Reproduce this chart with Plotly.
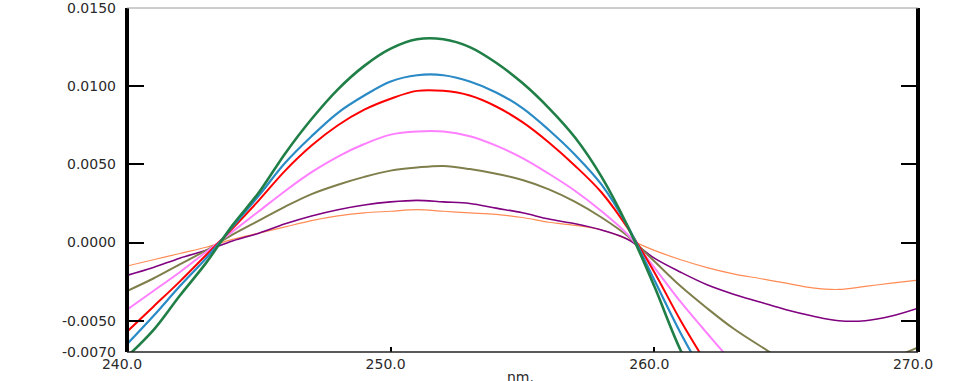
import plotly.graph_objects as go

# wavelength grid (nm)
wavelength = list(range(240, 271))

green = [-0.0073, -0.0056, -0.0034, -0.0013, 0.0011, 0.0032, 0.0057, 0.0079, 0.0098, 0.0113,
         0.0124, 0.0130, 0.0130, 0.0125, 0.0115, 0.0102, 0.0086, 0.0067, 0.0042, 0.0010,
         -0.0028, -0.0069, -0.0100]
blue = [-0.0065, -0.0047, -0.0028, -0.0010, 0.0010, 0.0030, 0.0051, 0.0068, 0.0083, 0.0094,
        0.0103, 0.0107, 0.0107, 0.0103, 0.0096, 0.0086, 0.0072, 0.0056, 0.0037, 0.0010,
        -0.0024, -0.0058, -0.0088]
red = [-0.0057, -0.0041, -0.0025, -0.0008, 0.0009, 0.0027, 0.0046, 0.0062, 0.0075, 0.0085,
       0.0092, 0.0097, 0.0097, 0.0094, 0.0087, 0.0077, 0.0064, 0.0049, 0.0032, 0.0009,
       -0.0019, -0.0050, -0.0078]
pink = [-0.0043, -0.0031, -0.0019, -0.0006, 0.0007, 0.0020, 0.0033, 0.0045, 0.0055, 0.0063,
        0.0069, 0.0071, 0.0071, 0.0068, 0.0062, 0.0054, 0.0044, 0.0033, 0.0020, 0.0005,
        -0.0016, -0.0038, -0.0058, -0.0077, -0.0092]
olive = [-0.0031, -0.0023, -0.0014, -0.0005, 0.0005, 0.0014, 0.0023, 0.0031, 0.0037, 0.0042,
         0.0046, 0.0048, 0.0049, 0.0047, 0.0044, 0.0040, 0.0034, 0.0026, 0.0016, 0.0004,
         -0.0012, -0.0028, -0.0042, -0.0055, -0.0066, -0.0076, -0.0080, -0.0081, -0.0079,
         -0.0074, -0.0067]
purple = [-0.0021, -0.0016, -0.0010, -0.0005, 0.0001, 0.0006, 0.0012, 0.0017, 0.0021, 0.0024,
          0.0026, 0.0027, 0.0026, 0.0025, 0.0022, 0.0019, 0.0015, 0.0012, 0.0008, 0.0002,
          -0.0010, -0.0019, -0.0027, -0.0033, -0.0038, -0.0043, -0.0047, -0.0050, -0.0050,
          -0.0047, -0.0042]
orange = [-0.0015, -0.0011, -0.0007, -0.0003, 0.0002, 0.0006, 0.0010, 0.0014, 0.0017, 0.0019,
          0.0020, 0.0021, 0.0020, 0.0019, 0.0018, 0.0016, 0.0013, 0.0011, 0.0008, 0.0002,
          -0.0005, -0.0011, -0.0016, -0.0020, -0.0023, -0.0026, -0.0029, -0.0030, -0.0028,
          -0.0026, -0.0024]

y_tickvals = [0.015, 0.010, 0.005, 0.0, -0.005, -0.007]
y_ticktext = ["0.0150", "0.0100", "0.0050", "0.0000", "-0.0050", "-0.0070"]
x_tickvals = [240, 250, 260, 270]
x_ticktext = ["240.0", "250.0", "260.0", "270.0"]
x_title = "nm."

series = [
    (orange, "#FF8C55", 1.2),
    (purple, "#800080", 1.6),
    (olive, "#7F7F4C", 2.0),
    (pink, "#FF80FF", 2.0),
    (red, "#FF0000", 2.0),
    (blue, "#2A8AC6", 2.2),
    (green, "#1F7F46", 2.6),
]

fig = go.Figure()
for ys, col, w in series:
    fig.add_trace(go.Scatter(
        x=wavelength[:len(ys)], y=ys, mode="lines",
        line=dict(color=col, width=w, shape="spline", smoothing=1.0),
        showlegend=False, hoverinfo="skip"))

tick_font = dict(family="DejaVu Sans", size=14, color="#2a2a2a")

fig.update_layout(
    width=960, height=381,
    margin=dict(l=127, r=42, t=8, b=29),
    paper_bgcolor="white", plot_bgcolor="white",
    xaxis=dict(range=[240, 270], tickmode="array", tickvals=x_tickvals, ticktext=x_ticktext,
               ticks="inside", ticklen=5, tickwidth=2, tickcolor="black",
               showline=False, showgrid=False, zeroline=False, tickfont=tick_font,
               ticklabelshift=-5, ticklabelstandoff=2, automargin=False,
               ticklabeloverflow="allow"),
    yaxis=dict(range=[-0.007, 0.015], tickmode="array", tickvals=y_tickvals, ticktext=y_ticktext,
               ticks="inside", ticklen=17, tickwidth=2, tickcolor="black", mirror="ticks",
               showline=False, showgrid=False, zeroline=False, tickfont=tick_font,
               ticklabelstandoff=10, automargin=False, ticklabeloverflow="allow"),
    shapes=[
        dict(type="line", xref="paper", yref="paper", x0=0, x1=0, y0=0, y1=1,
             line=dict(color="black", width=4)),
        dict(type="line", xref="paper", yref="paper", x0=1, x1=1, y0=0, y1=1,
             line=dict(color="black", width=4)),
        dict(type="line", xref="paper", yref="paper", x0=0, x1=1, y0=1, y1=1,
             line=dict(color="#9a9a9a", width=1)),
        dict(type="line", xref="paper", yref="paper", x0=0, x1=1, y0=0, y1=0,
             line=dict(color="#222222", width=1.5)),
    ],
    annotations=[dict(text=x_title, xref="paper", yref="paper", x=0.498, y=-0.045,
                      xanchor="center", yanchor="top", showarrow=False, font=tick_font)],
)

fig.write_html("out.html")
